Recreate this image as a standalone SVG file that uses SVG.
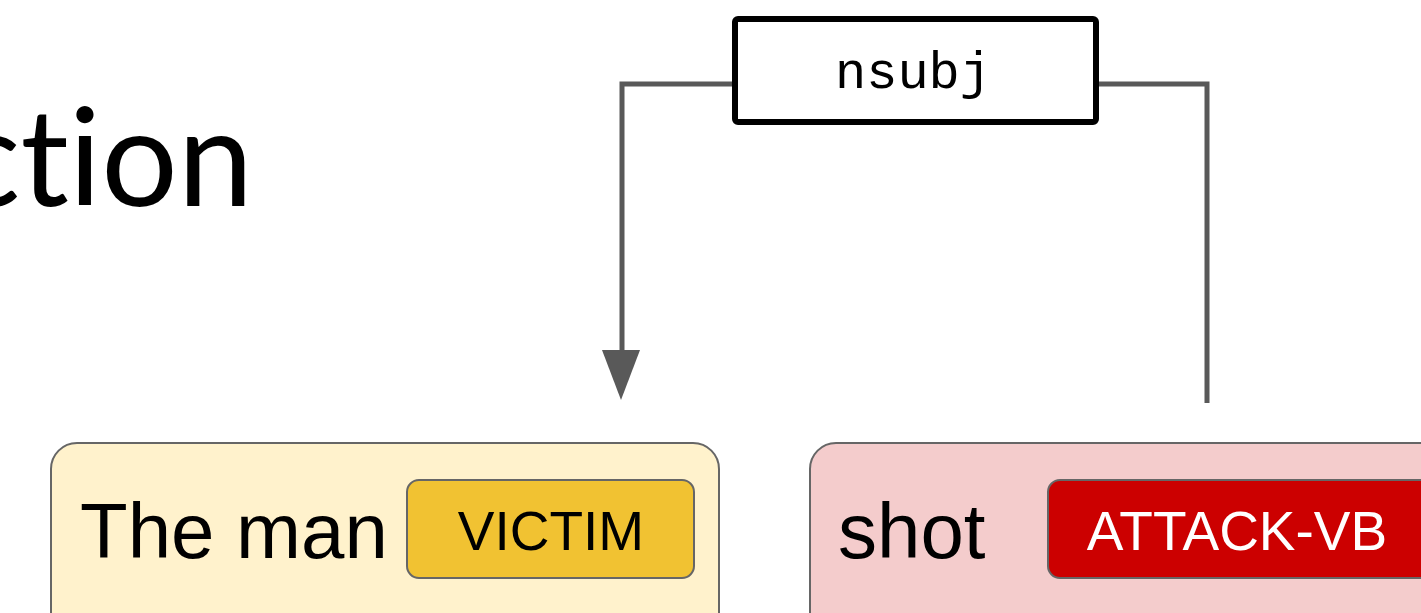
<svg xmlns="http://www.w3.org/2000/svg" width="1421" height="613" viewBox="0 0 1421 613">
<defs>
<style>
.conn{fill:none;stroke:#595959;stroke-width:5}
.node{stroke:#666666;stroke-width:2}
.word{font-family:"Liberation Sans",Arial,sans-serif;font-size:78px;fill:#000}
.tag{font-family:"Liberation Sans",Arial,sans-serif;font-size:55px;text-anchor:middle}
</style>
</defs>
<rect width="1421" height="613" fill="#ffffff"/>
<text x="-44" y="206" font-family="Lato,sans-serif" font-size="135" fill="#000" style="font-variant-ligatures:none;font-feature-settings:'liga' 0">ction</text>
<g id="connectors">
<path class="conn" d="M735,84 H622 V350"/>
<path d="M602,350 L640,350 L621,400 Z" fill="#595959"/>
<path class="conn" d="M1095,84 H1207 V403"/>
</g>
<g id="label-nsubj">
<rect x="735" y="19" width="361" height="103" rx="3" fill="#ffffff" stroke="#000000" stroke-width="6"/>
<text x="913" y="88" font-family="Liberation Mono,monospace" font-size="52" text-anchor="middle" fill="#000">nsubj</text>
</g>
<g id="node-theman">
<rect class="node" x="51" y="443" width="668" height="200" rx="26" fill="#fff2cc"/>
<text class="word" x="80" y="558">The man</text>
<rect class="node" x="407" y="480" width="287" height="98" rx="12" fill="#f1c232"/>
<text class="tag" x="551" y="550" fill="#000">VICTIM</text>
</g>
<g id="node-shot">
<rect class="node" x="810" y="443" width="700" height="200" rx="26" fill="#f4cccc"/>
<text class="word" x="838" y="558">shot</text>
<rect class="node" x="1048" y="480" width="400" height="98" rx="12" fill="#cc0000"/>
<text class="tag" x="1237" y="550" fill="#ffffff">ATTACK-VB</text>
</g>
</svg>
